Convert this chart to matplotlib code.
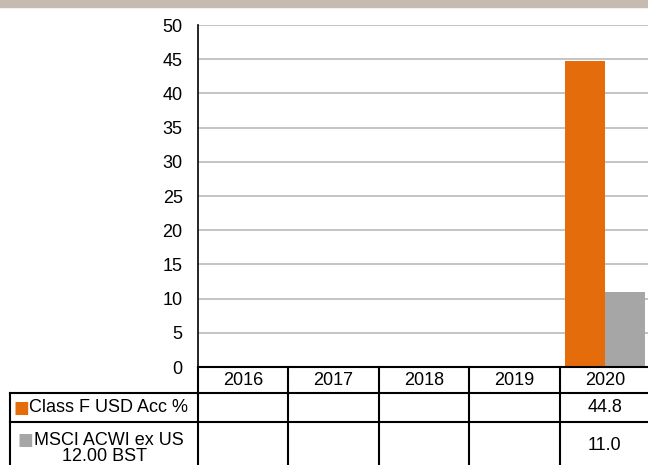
import matplotlib
matplotlib.use('Agg')
import matplotlib.pyplot as plt
from matplotlib.patches import Rectangle

years = ['2016', '2017', '2018', '2019', '2020']
fund = [None, None, None, None, 44.8]
index = [None, None, None, None, 11.0]
series_names = ['Class F USD Acc %', 'MSCI ACWI ex US\n12.00 BST']
series_colors = ['#E46C0A', '#A6A6A6']
yticks = [0, 5, 10, 15, 20, 25, 30, 35, 40, 45, 50]

plt.rcParams['font.family'] = ['Liberation Sans', 'DejaVu Sans']
plt.rcParams['font.size'] = 13

W, H = 648, 465
fig = plt.figure(figsize=(W / 100, H / 100), dpi=100)

# top band
fig.patches.append(Rectangle((0, 1 - 7 / H), 1, 7 / H, transform=fig.transFigure,
                             color='#C5BBB1', zorder=0))

x0, x1 = 198, 650
ytop, ybot = 25, 367
ax = fig.add_axes([x0 / W, 1 - ybot / H, (x1 - x0) / W, (ybot - ytop) / H])

n = len(years)
bw = 0.445
for i in range(n):
    if fund[i] is not None:
        ax.bar(i - bw / 2, fund[i], width=bw, color=series_colors[0], zorder=3)
    if index[i] is not None:
        ax.bar(i + bw / 2, index[i], width=bw, color=series_colors[1], zorder=3)

ax.set_xlim(-0.5, n - 0.5)
ax.set_ylim(0, 50)
ax.set_yticks(yticks)
ax.set_xticks([])
ax.yaxis.grid(True, color='#BFBFBF', linewidth=1.3)
ax.set_axisbelow(True)
for s in ['top', 'right', 'bottom']:
    ax.spines[s].set_visible(False)
ax.spines['left'].set_linewidth(1.2)
ax.tick_params(axis='y', length=0, pad=11, labelsize=13)

# data table below the plot
tax = fig.add_axes([x0 / W, 0, (x1 - x0) / W, (H - ybot) / H])
tax.set_xlim(-0.5, n - 0.5)
rows = [0, 26, 55, 99]  # row edges, px below the axis
tax.set_ylim(H - ybot, 0)
tax.axis('off')
lc = 'black'
lw = 1.5
colw = (x1 - x0) / n
xl = -0.5 - (x0 - 10) / colw

# horizontal lines
tax.plot([-0.5, n - 0.5], [rows[0], rows[0]], color=lc, lw=lw, clip_on=False)
for r in rows[1:3]:
    tax.plot([xl, n - 0.5], [r, r], color=lc, lw=lw, clip_on=False)
# vertical lines
for i in range(n):
    tax.plot([i - 0.5, i - 0.5], [rows[0], rows[3]], color=lc, lw=lw, clip_on=False)
tax.plot([xl, xl], [rows[1], rows[3]], color=lc, lw=lw, clip_on=False)

for i, y in enumerate(years):
    tax.text(i, (rows[0] + rows[1]) / 2, y, ha='center', va='center', fontsize=13)

xlab = (xl - 0.5) / 2
for k, (name, vals) in enumerate(zip(series_names, [fund, index])):
    yc = (rows[k + 1] + rows[k + 2]) / 2
    if '\n' in name:
        first, second = name.split('\n')
        t = tax.text(xlab + 0.05, yc - 4, first, ha='center', va='center',
                     fontsize=13, clip_on=False)
        tax.text(xlab, yc + 12, second, ha='center', va='center',
                 fontsize=13, clip_on=False)
    else:
        t = tax.text(xlab + 0.05, yc, name, ha='center', va='center',
                     fontsize=13, clip_on=False)
    tax.annotate('\u25a0', xy=(0, 0.5), xycoords=t, ha='right', va='center',
                 color=series_colors[k], fontsize=12, family='DejaVu Sans',
                 annotation_clip=False)
    for i, v in enumerate(vals):
        if v is not None:
            tax.text(i, yc + (1 if k else 0), f'{v:.1f}', ha='center',
                     va='center', fontsize=13)

fig.savefig('out.png', dpi=100)
